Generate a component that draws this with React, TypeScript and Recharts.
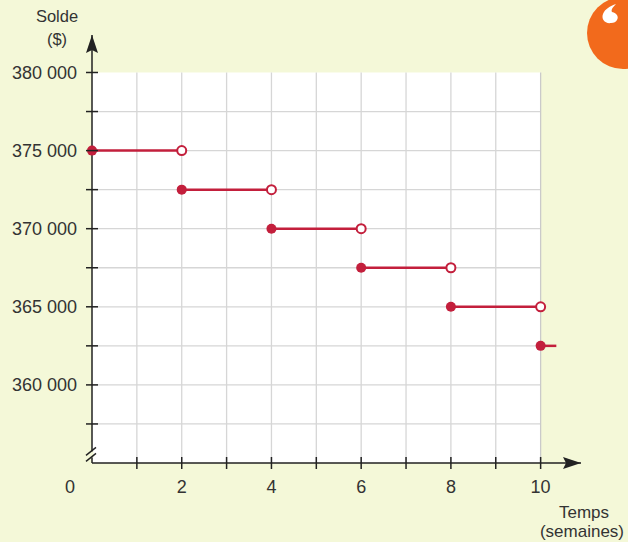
import React from 'react'
import {
  LineChart,
  Line,
  XAxis,
  YAxis,
  ReferenceArea,
  ReferenceLine,
  ReferenceDot,
  Customized,
} from 'recharts'

// Solde en fonction du temps (fonction en escalier)
const stepStarts = [0, 2, 4, 6, 8, 10]
const stepEnds = [2, 4, 6, 8, 10, 10.35]
const balances = [375000, 372500, 370000, 367500, 365000, 362500]
const openEnds = [true, true, true, true, true, false]

const xTicks = [0, 1, 2, 3, 4, 5, 6, 7, 8, 9, 10]
const xGridValues = [1, 2, 3, 4, 5, 6, 7, 8, 9, 10]
const yTicks = [357500, 360000, 362500, 365000, 367500, 370000, 372500, 375000, 377500, 380000]
const yLabelValues = [360000, 365000, 370000, 375000, 380000]

const X_MIN = 0
const X_MAX = 10.9
const X_GRID_MAX = 10
const Y_MIN = 355000
const Y_MAX = 382400
const Y_GRID_MAX = 380000

const RED = '#c31f3c'
const BG = '#f4f8d8'
const INK = '#222'
const TEXT = '#333'
const GRID = '#d6d6d6'
const FONT = '"Liberation Sans", Arial, sans-serif'

const segments = balances.map((b, i) => ({
  open: openEnds[i],
  data: [
    { t: stepStarts[i], solde: b },
    { t: stepEnds[i], solde: b },
  ],
}))

const formatFr = (v: number) => {
  const k = Math.floor(v / 1000)
  const r = String(v % 1000).padStart(3, '0')
  return `${k} ${r}`
}

const XTick = (props: any) => {
  const { x, y, payload } = props
  const v = payload.value
  return (
    <g>
      {v > 0 && <line x1={x} x2={x} y1={y - 6} y2={y + 6} stroke={INK} strokeWidth={1.5} />}
      {v % 2 === 0 && (
        <text
          x={v === 0 ? x - 22 : x}
          y={y + 30}
          textAnchor="middle"
          fontSize={18}
          fontFamily={FONT}
          fill={TEXT}
        >
          {v}
        </text>
      )}
    </g>
  )
}

const YTick = (props: any) => {
  const { x, y, payload } = props
  const v = payload.value
  const axisX = x + 15
  return (
    <g>
      <line x1={axisX - 6} x2={axisX + 6} y1={y} y2={y} stroke={INK} strokeWidth={1.5} />
      {yLabelValues.includes(v) && (
        <text x={x} y={y + 6.5} textAnchor="end" fontSize={18} fontFamily={FONT} fill={TEXT}>
          {formatFr(v)}
        </text>
      )}
    </g>
  )
}

const makeDot = (open: boolean) => (props: any) => {
  const { cx, cy, index } = props
  if (index === 0) return <circle key={`d${index}`} cx={cx} cy={cy} r={5} fill={RED} />
  if (open)
    return <circle key={`d${index}`} cx={cx} cy={cy} r={4.5} fill="#fff" stroke={RED} strokeWidth={2} />
  return <g key={`d${index}`} />
}

const ArrowRight = (props: any) => {
  const { cx, cy } = props
  return <path d={`M${cx},${cy} L${cx - 18},${cy - 6} L${cx - 15},${cy} L${cx - 18},${cy + 6} Z`} fill={INK} />
}

const ArrowUp = (props: any) => {
  const { cx, cy } = props
  return <path d={`M${cx},${cy} L${cx - 6},${cy + 18} L${cx},${cy + 15} L${cx + 6},${cy + 18} Z`} fill={INK} />
}

const AxisBreak = (props: any) => {
  const { cx, cy } = props
  return (
    <g>
      <line x1={cx} x2={cx} y1={cy - 3} y2={cy + 3} stroke={BG} strokeWidth={3} />
      <line x1={cx - 6} x2={cx + 4} y1={cy + 1} y2={cy - 7} stroke={INK} strokeWidth={1.5} />
      <line x1={cx - 6} x2={cx + 4} y1={cy + 7} y2={cy - 1} stroke={INK} strokeWidth={1.5} />
    </g>
  )
}

const Decorations = () => (
  <g fontFamily={FONT} fill={TEXT}>
    <circle cx={623} cy={33} r={36} fill="#f26a1c" />
    <path
      transform="rotate(180 610 14)"
      d="M609,5 C615,4 619,9 617,14 C615,19 610,22 604,24 C608,20 609,18 608,16 C603,15 601,11 603,8 C604,6 606,5 609,5 Z"
      fill="#fff"
    />
    <text x={57} y={22} textAnchor="middle" fontSize={16.5}>Solde</text>
    <text x={57} y={45} textAnchor="middle" fontSize={16.5}>($)</text>
    <text x={584} y={518} textAnchor="middle" fontSize={17}>Temps</text>
    <text x={582} y={537} textAnchor="middle" fontSize={17}>(semaines)</text>
  </g>
)

export default function App() {
  return (
    <div style={{ position: 'absolute', left: 0, top: 0, width: 628, height: 542, background: BG, overflow: 'hidden' }}>
      <LineChart width={628} height={542} margin={{ top: 35, right: 47, bottom: 49, left: 32 }}>
        <XAxis
          type="number"
          dataKey="t"
          domain={[X_MIN, X_MAX]}
          ticks={xTicks}
          tick={<XTick />}
          tickLine={false}
          tickSize={0}
          tickMargin={0}
          height={30}
          axisLine={{ stroke: INK, strokeWidth: 1.5 }}
        />
        <YAxis
          type="number"
          dataKey="solde"
          domain={[Y_MIN, Y_MAX]}
          ticks={yTicks}
          tick={<YTick />}
          tickLine={false}
          tickSize={0}
          tickMargin={15}
          width={60}
          interval={0}
          axisLine={{ stroke: INK, strokeWidth: 1.5 }}
        />
        <ReferenceArea x1={X_MIN} x2={X_GRID_MAX} y1={Y_MIN} y2={Y_GRID_MAX} fill="#fff" fillOpacity={1} stroke="none" />
        {yTicks.slice(0, -1).map((v) => (
          <ReferenceLine
            key={`h${v}`}
            segment={[{ x: X_MIN, y: v }, { x: X_GRID_MAX, y: v }]}
            stroke={GRID}
            strokeWidth={1.3}
          />
        ))}
        {xGridValues.map((v) => (
          <ReferenceLine
            key={`v${v}`}
            segment={[{ x: v, y: Y_MIN }, { x: v, y: Y_GRID_MAX }]}
            stroke={v === X_GRID_MAX ? '#cacaca' : GRID}
            strokeWidth={1.3}
          />
        ))}
        {segments.map((s, i) => (
          <Line
            key={`s${i}`}
            data={s.data}
            dataKey="solde"
            type="linear"
            stroke={RED}
            strokeWidth={2.5}
            dot={makeDot(s.open)}
            activeDot={false}
            isAnimationActive={false}
          />
        ))}
        <ReferenceDot x={X_MAX} y={Y_MIN} r={0} shape={<ArrowRight />} />
        <ReferenceDot x={X_MIN} y={Y_MAX} r={0} shape={<ArrowUp />} />
        <ReferenceDot x={X_MIN} y={355550} r={0} shape={<AxisBreak />} />
        <Customized component={Decorations} />
      </LineChart>
    </div>
  )
}
